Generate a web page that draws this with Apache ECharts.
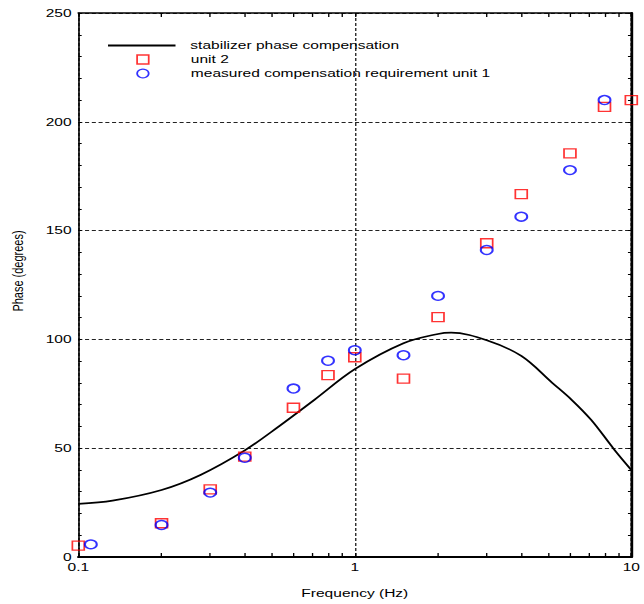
<!DOCTYPE html>
<html>
<head>
<meta charset="utf-8">
<script src="https://cdn.jsdelivr.net/npm/echarts@6/dist/echarts.min.js"></script>
<style>
html, body { margin: 0; padding: 0; overflow: hidden; background: #fff; }
#main { width: 477px; height: 604px; transform: scaleX(1.35010); transform-origin: 0 0; }
</style>
</head>
<body>
<div id="main"></div>
<script>
// ---- data ----
const curveFreq  = [0.1, 0.133, 0.2, 0.2765, 0.4, 0.53, 0.714, 1.0, 1.5, 2.0, 2.23, 3.0, 4.0, 5.17, 6.09, 7.16, 8.66, 10];
const curvePhase = [24.4, 25.9, 30.8, 37.7, 49.0, 59.9, 72.2, 86.3, 98.2, 102.5, 103.1, 99.6, 92.4, 80.1, 72.2, 63.0, 49.5, 40.0];

const unit2Freq  = [0.1, 0.2, 0.3, 0.4, 0.6, 0.8, 1.0, 1.5, 2.0, 3.0, 4.0, 6.0, 8.0, 10];
const unit2Phase = [5.2, 15.5, 31.1, 46.1, 68.6, 83.6, 91.8, 82.0, 110.2, 144.2, 166.8, 185.5, 206.9, 210.0];

const unit1Freq  = [0.111, 0.2, 0.3, 0.4, 0.6, 0.8, 1.0, 1.5, 2.0, 3.0, 4.0, 6.0, 8.0];
const unit1Phase = [5.8, 14.7, 29.6, 45.6, 77.4, 90.2, 95.0, 92.7, 120.0, 141.1, 156.4, 177.8, 210.0];

const xTickValues = [0.1, 0.2, 0.3, 0.4, 0.5, 0.6, 0.7, 0.8, 0.9, 1, 2, 3, 4, 5, 6, 7, 8, 9, 10];
const seriesNames = ['stabilizer phase compensation', 'unit 2', 'measured compensation requirement unit 1'];
const xTitle = 'Frequency (Hz)';
const yTitle = 'Phase (degrees)';

const zip = (a, b) => a.map((v, i) => [v, b[i]]);
const FONT = "'Liberation Sans', Arial, sans-serif";
const gridDash = { color: '#222', width: 1, type: [3, 2] };

const chart = echarts.init(document.getElementById('main'), null, { renderer: 'svg' });

const xBase = {
  type: 'log', logBase: 10, min: 0.1, max: 10,
  axisTick: { show: true, inside: true, length: 4, customValues: xTickValues, lineStyle: { color: '#000', width: 1 } }
};
const yBase = {
  type: 'value', min: 0, max: 250, interval: 50,
  axisTick: { show: true, inside: true, length: 2.5, lineStyle: { color: '#000', width: 1 } },
  minorTick: { show: true, splitNumber: 5, length: 2.5, lineStyle: { color: '#000', width: 1 } }
};
const legendText = { fontSize: 11.5, lineHeight: 12, color: '#000', fontFamily: FONT };

chart.setOption({
  animation: false,
  backgroundColor: '#fff',
  textStyle: { fontFamily: FONT },
  grid: { left: 55.6, right: 2.9, top: 13, bottom: 47, containLabel: false },
  legend: [
    {
      data: [{ name: seriesNames[0], icon: 'rect' }],
      left: 80, top: 39.5, padding: 0,
      itemWidth: 50, itemHeight: 2, selectedMode: false,
      textStyle: Object.assign({}, legendText, { padding: [0, 0, 0, 6] })
    },
    {
      data: [{ name: seriesNames[1], icon: 'rect' }],
      left: 100.9, top: 53.5, padding: 0,
      itemWidth: 8.6, itemHeight: 9, selectedMode: false,
      itemStyle: { color: 'rgba(0,0,0,0)', borderColor: '#ff0000', borderWidth: 1.3 },
      textStyle: Object.assign({}, legendText, { padding: [0, 0, 0, 26.2] })
    },
    {
      data: [{ name: seriesNames[2], icon: 'circle' }],
      left: 100.9, top: 67.5, padding: 0,
      itemWidth: 8.6, itemHeight: 9, selectedMode: false,
      itemStyle: { color: 'rgba(0,0,0,0)', borderColor: '#0000ff', borderWidth: 1.3 },
      textStyle: Object.assign({}, legendText, { padding: [0, 0, 0, 26.2] })
    }
  ],
  xAxis: [
    Object.assign({}, xBase, {
      position: 'bottom',
      name: xTitle, nameLocation: 'middle', nameGap: 30,
      nameTextStyle: { fontSize: 11.5, color: '#000', fontFamily: FONT },
      axisLine: { show: true, lineStyle: { color: '#000', width: 2 } },
      axisLabel: { show: true, fontSize: 11.5, color: '#000', margin: 4, fontFamily: FONT,
                   showMinLabel: true, showMaxLabel: true },
      splitLine: { show: false }
    }),
    Object.assign({}, xBase, {
      position: 'top',
      axisLine: { show: true, onZero: false, lineStyle: { color: '#000', width: 1.5 } },
      axisLabel: { show: false },
      splitLine: { show: false }
    }),
    {
      // decade grid lines only
      type: 'log', logBase: 10, min: 0.1, max: 10, position: 'bottom',
      axisLine: { show: false }, axisTick: { show: false }, axisLabel: { show: false },
      splitLine: { show: true, lineStyle: gridDash }
    }
  ],
  yAxis: [
    Object.assign({}, yBase, {
      position: 'left',
      name: yTitle, nameLocation: 'middle', nameGap: 39, nameRotate: 90,
      nameTextStyle: { fontSize: 11, color: '#000', fontFamily: FONT, padding: [0, 0, 0, 28] },
      axisLine: { show: true, lineStyle: { color: '#000', width: 1.2 } },
      axisLabel: { show: true, fontSize: 11.5, color: '#000', margin: 5, fontFamily: FONT },
      splitLine: { show: true, lineStyle: gridDash }
    }),
    Object.assign({}, yBase, {
      position: 'right',
      axisLine: { show: true, onZero: false, lineStyle: { color: '#000', width: 2 } },
      axisLabel: { show: false },
      splitLine: { show: false }
    })
  ],
  series: [
    {
      name: seriesNames[0], type: 'line', xAxisIndex: 0, yAxisIndex: 0,
      data: zip(curveFreq, curvePhase),
      smooth: 0.35, symbol: 'none', showSymbol: false,
      color: '#000',
      lineStyle: { color: '#000', width: 1.6 },
      z: 3
    },
    {
      name: seriesNames[1], type: 'scatter', xAxisIndex: 0, yAxisIndex: 0,
      data: zip(unit2Freq, unit2Phase),
      symbol: 'rect', symbolSize: [8.8, 9],
      itemStyle: { color: 'rgba(0,0,0,0)', borderColor: '#ff0000', borderWidth: 1.3 },
      z: 4
    },
    {
      name: seriesNames[2], type: 'scatter', xAxisIndex: 0, yAxisIndex: 0,
      data: zip(unit1Freq, unit1Phase),
      symbol: 'circle', symbolSize: [8.8, 8.8],
      itemStyle: { color: 'rgba(0,0,0,0)', borderColor: '#0000ff', borderWidth: 1.5 },
      z: 5
    }
  ]
});
</script>
</body>
</html>
